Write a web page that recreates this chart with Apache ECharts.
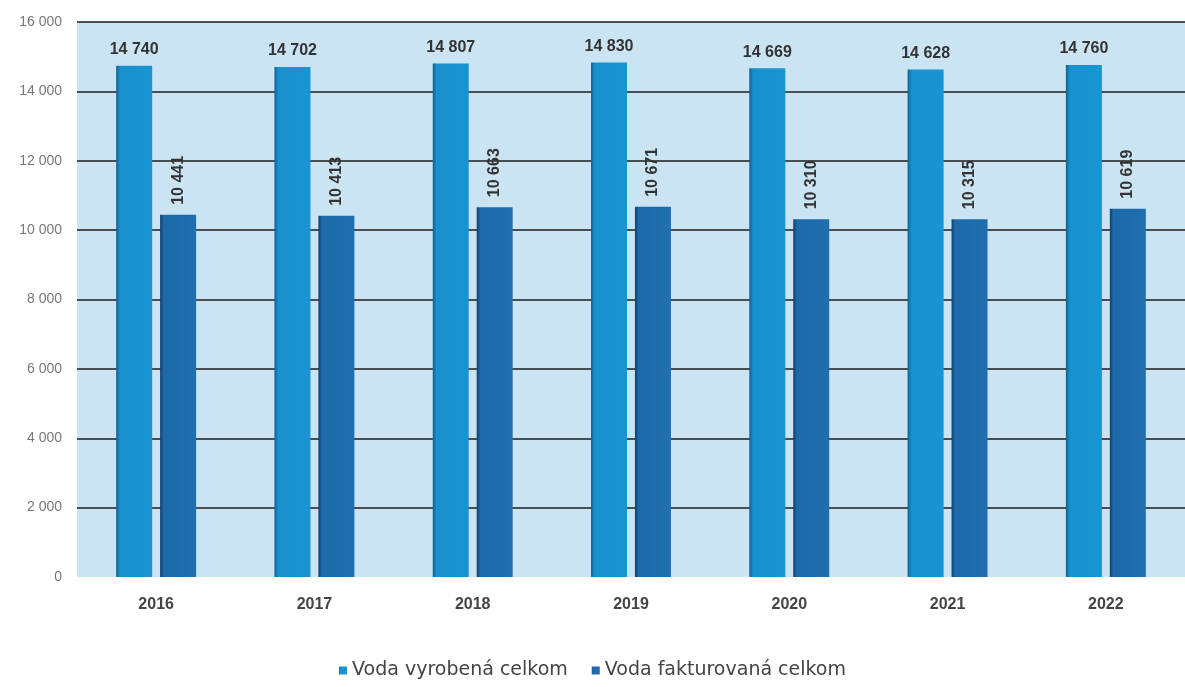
<!DOCTYPE html>
<html>
<head>
<meta charset="utf-8">
<script src="https://cdn.jsdelivr.net/npm/echarts@6/dist/echarts.min.js"></script>
<style>html,body{margin:0;padding:0;background:#fff;}#c{width:1185px;height:687px;}</style>
</head>
<body>
<div id="c"></div>
<script>
const years = ['2016','2017','2018','2019','2020','2021','2022'];
const vyrobena = [14740, 14702, 14807, 14830, 14669, 14628, 14760];
const fakturovana = [10441, 10413, 10663, 10671, 10310, 10315, 10619];
const seriesNames = ['Voda vyrobená celkom', 'Voda fakturovaná celkom'];

const fmt = v => String(v).replace(/\B(?=(\d{3})+(?!\d))/g, ' ');
const gridColors = ['rgba(0,0,0,0)', '#1b1b1b', '#1b1b1b', '#1b1b1b', '#1b1b1b', '#1b1b1b', '#1b1b1b', '#1b1b1b', '#1b1b1b'];
const chart = echarts.init(document.getElementById('c'));
chart.setOption({
  animation: false,
  textStyle: { fontFamily: 'Liberation Sans, Arial, sans-serif' },
  grid: { left: 77, right: -12, top: 22, bottom: 110, show: true, backgroundColor: '#cbe4f4', borderWidth: 0 },
  legend: {
    bottom: 2, left: 'center', itemWidth: 8, itemHeight: 8, itemGap: 24,
    icon: 'rect',
    textStyle: { color: '#444', fontSize: 19, fontFamily: 'DejaVu Sans, sans-serif' },
    data: seriesNames
  },
  xAxis: {
    type: 'category', data: years,
    axisLine: { show: false }, axisTick: { show: false },
    axisLabel: { color: '#444', fontSize: 16, fontWeight: 'bold', margin: 20 }
  },
  yAxis: {
    type: 'value', min: 0, max: 16000, interval: 2000,
    axisLine: { show: false }, axisTick: { show: false },
    axisLabel: { color: '#777', fontSize: 14, margin: 15, formatter: v => fmt(v) },
    splitLine: { show: true, lineStyle: { color: gridColors, width: 1.5 } }
  },
  series: [
    {
      name: seriesNames[0], type: 'bar', data: vyrobena, barWidth: 36, barGap: '22%',
      itemStyle: {
        color: new echarts.graphic.LinearGradient(0, 0, 1, 0, [
          { offset: 0, color: '#0d5f8e' }, { offset: 0.1, color: '#1890cd' }, { offset: 1, color: '#1a94d2' }
        ])
      },
      label: { show: true, position: 'top', distance: 8, color: '#333', fontSize: 16, fontWeight: 'bold', formatter: p => fmt(p.value) }
    },
    {
      name: seriesNames[1], type: 'bar', data: fakturovana, barWidth: 36,
      itemStyle: {
        color: new echarts.graphic.LinearGradient(0, 0, 1, 0, [
          { offset: 0, color: '#103f6a' }, { offset: 0.1, color: '#1d69a9' }, { offset: 1, color: '#206fb0' }
        ])
      },
      label: { show: true, position: 'top', rotate: 90, align: 'left', verticalAlign: 'middle', distance: 10, color: '#333', fontSize: 16, fontWeight: 'bold', formatter: p => fmt(p.value) }
    }
  ],
  color: ['#1a94d2', '#1f5f95']
});
</script>
</body>
</html>
